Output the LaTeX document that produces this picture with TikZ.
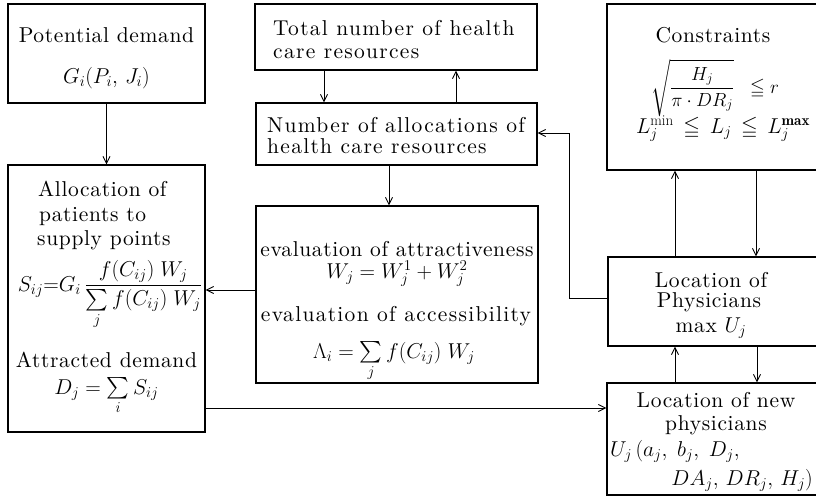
\RequirePackage{fix-cm}
\documentclass[tikz,border=0pt]{standalone}
\usepackage{amsmath,amssymb}
\usepackage{fontspec}
\newfontfamily\lsfont{lmroman10-regular.otf}[LetterSpace=3]
\newfontfamily\lsfontw{lmroman10-regular.otf}[LetterSpace=6]
\usetikzlibrary{arrows.meta}
\tikzset{
  box/.style={draw, line width=1.3pt, inner sep=0pt, rectangle},
  txt/.style={inner sep=0pt, font=\lsfont\fontsize{21.5}{24}\selectfont},
  txtw/.style={inner sep=0pt, font=\lsfontw\fontsize{21.5}{24}\selectfont},
  txts/.style={inner sep=0pt, font=\lsfont\fontsize{19}{22}\selectfont},
  conn/.style={line width=0.9pt},
  arr/.style={conn, -{Straight Barb[length=7pt,width=7pt,line width=0.9pt]}},
}
\newcommand{\smsum}{\mathop{\textstyle\sum}\limits}
\begin{document}
\begin{tikzpicture}[x=1pt,y=-1pt]
\useasboundingbox (0,0) rectangle (816,498);
\clip (0,0) rectangle (816,498);
\fill[white] (0,0) rectangle (816,498);

% boxes
\node[box, minimum width=197pt, minimum height=99pt] (pd) at (106.5,53.5) {};
\node[box, minimum width=197pt, minimum height=267pt] (alloc) at (106.5,298.5) {};
\node[box, minimum width=282pt, minimum height=66pt] (total) at (396,37) {};
\node[box, minimum width=281pt, minimum height=62pt] (num) at (396.5,134) {};
\node[box, minimum width=282pt, minimum height=177pt] (eval) at (397,294.5) {};
\node[box, minimum width=223pt, minimum height=166pt] (cons) at (718.5,87) {};
\node[box, minimum width=222pt, minimum height=89pt] (lop) at (719,301.5) {};
\node[box, minimum width=223pt, minimum height=112pt] (lonp) at (718.5,439) {};

% texts: potential demand
\node[txt, anchor=base] (pdt1) at (106.5,42) {Potential demand};
\node[txt, anchor=base] (pdt2) at (106.5,83) {$G_i(P_i,\,J_i)$};

% allocation
\node[txt, anchor=base west] (alt1) at (38,196) {Allocation of};
\node[txt, anchor=base west] (alt2) at (39,221) {patients to};
\node[txt, anchor=base west] (alt3) at (37,245) {supply points};
\node[txt, anchor=base] (alt4) at (110,291) {$S_{ij}{=}G_i\,\dfrac{f(C_{ij})\;W_j}{\smsum_j f(C_{ij})\;W_j}$};
\node[txt, anchor=base] (alt5) at (106.5,367) {Attracted demand};
\node[txt, anchor=base] (alt6) at (106.5,394) {$D_j=\smsum_i S_{ij}$};

% total
\node[txtw, anchor=base west] (tt1) at (273,35) {Total number of health};
\node[txtw, anchor=base west] (tt2) at (273,58) {care resources};

% number of allocations
\node[txtw, anchor=base west] (nt1) at (267,132) {Number of allocations of};
\node[txtw, anchor=base west] (nt2) at (267,153) {health care resources};

% evaluation
\node[txt, anchor=base] (et1) at (397,256) {evaluation of attractiveness};
\node[txt, anchor=base] (et2) at (397,278) {$W_j=W_j^1+W_j^2$};
\node[txtw, anchor=base] (et3) at (396,321) {evaluation of accessibility};
\node[txt, anchor=base] (et4) at (394,358) {$\Lambda_i=\smsum_j f(C_{ij})\;W_j$};

% constraints
\node[txt, anchor=base] (ct1) at (713,42) {Constraints};
\node[txts, anchor=base] (ct2) at (715,93) {$\sqrt{\dfrac{H_j}{\pi\cdot DR_j}}\;\;\leqq r$};
\node[txt, anchor=base] (ct3) at (723,133) {$L_j^{\mathrm{min}}\,\leqq\, L_j\,\leqq\, L_j^{\mathbf{max}}$};

% location of physicians
\node[txt, anchor=base] (lt1) at (711,287) {Location of};
\node[txt, anchor=base] (lt2) at (709,307) {Physicians};
\node[txt, anchor=base] (lt3) at (711,332) {max $U_j$};

% location of new physicians
\node[txt, anchor=base] (nw1) at (716,407) {Location of new};
\node[txt, anchor=base] (nw2) at (716,430) {physicians};
\node[txt, anchor=base west] (nw3) at (610,456) {$U_j\,(a_j,\;b_j,\;D_j,$};
\node[txt, anchor=base east] (nw4) at (813,485) {$DA_j,\,DR_j,\,H_j)$};

% connectors
\draw[arr] (pd.south) -- (alloc.north);
\draw[arr] (total.south -| 324,0) -- (num.north -| 324,0);
\draw[arr] (num.north -| 456,0) -- (total.south -| 456,0);
\draw[arr] (num.south -| 389,0) -- (eval.north -| 389,0);
\draw[arr] (eval.west |- 0,290) -- (alloc.east |- 0,290);
\draw[arr] (alloc.east |- 0,408) -- (lonp.west |- 0,408);
\draw[arr] (lop.west |- 0,298) -| (569,133) -- (num.east |- 0,133);
\draw[arr] (lop.north -| 675,0) -- (cons.south -| 675,0);
\draw[arr] (cons.south -| 756,0) -- (lop.north -| 756,0);
\draw[arr] (lonp.north -| 675,0) -- (lop.south -| 675,0);
\draw[arr] (lop.south -| 757,0) -- (lonp.north -| 757,0);
\end{tikzpicture}
\end{document}
